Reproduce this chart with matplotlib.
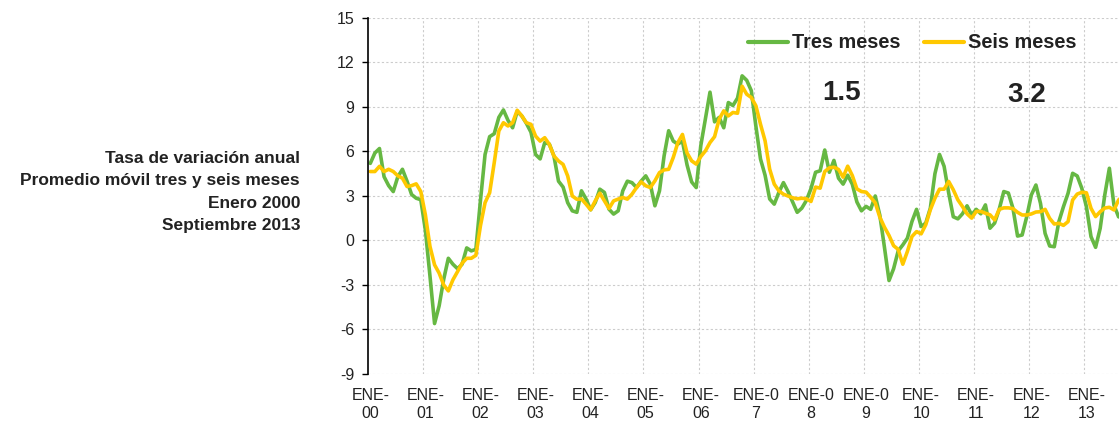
import numpy as np
import matplotlib.pyplot as plt

plt.rcParams['font.family'] = ['Liberation Sans', 'DejaVu Sans']

# monthly values, Jan 2000 - Sep 2013
tres_meses = [
    5.2, 5.9, 6.2, 4.3, 3.7, 3.3, 4.3, 4.8, 4.0, 3.1, 2.85, 2.75,
    0.7, -2.4, -5.6, -4.4, -2.6, -1.2, -1.6, -1.9, -1.6, -0.5, -0.7, -0.6,
    2.7, 5.8, 7.0, 7.2, 8.3, 8.8, 8.1, 7.6, 8.7, 8.4, 7.9, 7.3,
    5.8, 5.5, 6.6, 6.5, 5.7, 4.0, 3.6, 2.55, 2.0, 1.9, 3.35, 2.8,
    2.07, 2.56, 3.46, 3.24, 2.11, 1.78, 2.0, 3.35, 4.0, 3.9, 3.57, 4.0,
    4.36, 3.8, 2.34, 3.35, 5.7, 7.4, 6.7, 6.5, 6.7, 5.1, 3.95, 3.57,
    6.4, 8.2, 10.0, 8.0, 8.3, 7.6, 9.3, 9.1, 9.6, 11.1, 10.8, 10.1,
    7.7, 5.5, 4.4, 2.8, 2.45, 3.24, 3.9, 3.3, 2.6, 1.9, 2.18, 2.7,
    3.5, 4.6, 4.7, 6.1, 4.6, 5.4, 4.2, 3.8, 4.4, 3.8, 2.6, 2.0,
    2.3, 2.1, 3.0, 1.7, -0.45, -2.7, -1.9, -0.7, -0.3, 0.16, 1.28, 2.1,
    0.94, 1.17, 2.18, 4.5, 5.8, 5.0, 3.2, 1.6, 1.46, 1.8, 2.34, 1.73,
    2.1, 1.8, 2.4, 0.83, 1.17, 2.1, 3.3, 3.2, 2.17, 0.3, 0.37, 1.6,
    3.07, 3.74, 2.5, 0.48, -0.37, -0.42, 1.27, 2.28, 3.18, 4.53, 4.35, 3.52,
    2.28, 0.26, -0.46, 0.82, 3.07, 4.87, 2.39, 1.6, 1.5,
]
seis_meses = [
    4.65, 4.65, 5.0, 4.65, 4.8, 4.65, 4.36, 4.2, 3.64, 3.7, 3.82, 3.3,
    1.73, -0.4, -1.64, -2.2, -3.0, -3.4, -2.65, -2.1, -1.53, -1.2, -1.2, -1.0,
    1.0, 2.55, 3.22, 5.25, 7.38, 7.94, 7.72, 7.94, 8.78, 8.4, 7.94, 7.83,
    7.04, 6.7, 6.93, 6.48, 5.7, 5.36, 5.13, 4.35, 3.0, 2.78, 2.8, 2.45,
    2.07, 2.67, 3.19, 2.67, 2.16, 2.67, 2.79, 2.9, 2.79, 3.12, 3.57, 3.95,
    3.69, 3.57, 4.02, 4.58, 4.76, 4.8, 5.6, 6.6, 7.15, 5.9, 5.37, 5.15,
    5.66, 6.04, 6.6, 7.0, 8.18, 8.74, 8.4, 8.63, 8.58, 10.4, 9.86, 9.64,
    9.08, 7.84, 6.72, 4.81, 3.8, 3.35, 3.12, 3.0, 2.88, 2.81, 2.85, 2.81,
    2.63, 3.6, 3.53, 4.65, 4.9, 4.94, 4.79, 4.27, 5.01, 4.38, 3.48, 3.3,
    3.26, 2.92, 2.54, 1.57, 0.9, 0.34, -0.35, -0.6, -1.6, -0.74, 0.27, 0.6,
    0.45, 1.06, 2.07, 2.85, 3.46, 3.46, 3.98, 3.42, 2.74, 2.29, 1.8, 1.51,
    1.96, 1.96, 1.84, 1.73, 1.39, 2.1, 2.2, 2.2, 2.15, 1.9, 1.72, 1.72,
    1.79, 1.92, 1.94, 2.1, 1.49, 1.11, 1.16, 1.02, 1.27, 2.73, 3.13, 3.25,
    3.22, 2.17, 1.61, 1.94, 2.19, 2.24, 2.06, 2.73, 3.0,
]
x_labels = ['ENE-\n00', 'ENE-\n01', 'ENE-\n02', 'ENE-\n03', 'ENE-\n04', 'ENE-\n05',
            'ENE-\n06', 'ENE-0\n7', 'ENE-0\n8', 'ENE-0\n9', 'ENE-\n10', 'ENE-\n11',
            'ENE-\n12', 'ENE-\n13']
y_ticks = [-9, -6, -3, 0, 3, 6, 9, 12, 15]
titulo = 'Tasa de variación anual\nPromedio móvil tres y seis meses\nEnero 2000\nSeptiembre 2013'

green = '#66b843'
yellow = '#ffc800'
txt = '#222222'

fig = plt.figure(figsize=(11.19, 4.21), dpi=100)
ax = fig.add_axes([368 / 1119, 1 - 374 / 421, 751 / 1119, 356 / 421])

months = np.arange(len(tres_meses))
ax.plot(months, tres_meses, color=green, lw=2.6, label='Tres meses',
        solid_joinstyle='round', solid_capstyle='round')
ax.plot(months, seis_meses, color=yellow, lw=2.6, label='Seis meses',
        solid_joinstyle='round', solid_capstyle='round')

ax.set_xlim(-0.5, 163.1)
ax.set_ylim(-9, 15)
ax.set_yticks(y_ticks)
ax.set_yticklabels([str(v) for v in y_ticks])
ax.set_xticks(np.arange(0, 12 * len(x_labels), 12))
ax.set_xticklabels(x_labels, linespacing=1.25)
ax.set_xticks(np.arange(11.5, 164, 12), minor=True)

ax.tick_params(axis='y', direction='out', length=4, width=1, color='black',
               labelsize=11.5, labelcolor=txt, pad=6)
ax.tick_params(axis='x', which='major', length=0, labelsize=11.5, labelcolor=txt, pad=10)
ax.tick_params(axis='x', which='minor', length=0)

ax.grid(axis='y', color='#cccccc', lw=0.8, ls=(0, (2, 2)))
ax.grid(axis='x', which='minor', color='#cccccc', lw=0.8, ls=(0, (2, 2)))
for s in ['top', 'right', 'bottom']:
    ax.spines[s].set_visible(False)
ax.spines['left'].set_color('black')
ax.spines['left'].set_linewidth(1.2)

leg = fig.legend(loc='center', bbox_to_anchor=(912 / 1119, 1 - 43 / 421), ncol=2,
                 frameon=False, handlelength=2.0, handletextpad=0.2, columnspacing=1.2,
                 prop={'weight': 'bold', 'size': 14.3})
for t in leg.get_texts():
    t.set_color(txt)
for h in leg.get_lines():
    h.set_linewidth(3)

fig.text(842 / 1119, 1 - 93 / 421, '1.5', ha='center', va='center',
         fontsize=20, fontweight='bold', color=txt)
fig.text(1027 / 1119, 1 - 95 / 421, '3.2', ha='center', va='center',
         fontsize=20, fontweight='bold', color=txt)

fig.text(300 / 1119, 1 - 192 / 421, titulo, ha='right', va='center',
         fontsize=12.5, fontweight='bold', color=txt, linespacing=1.6)

fig.savefig('out.png', dpi=100)
